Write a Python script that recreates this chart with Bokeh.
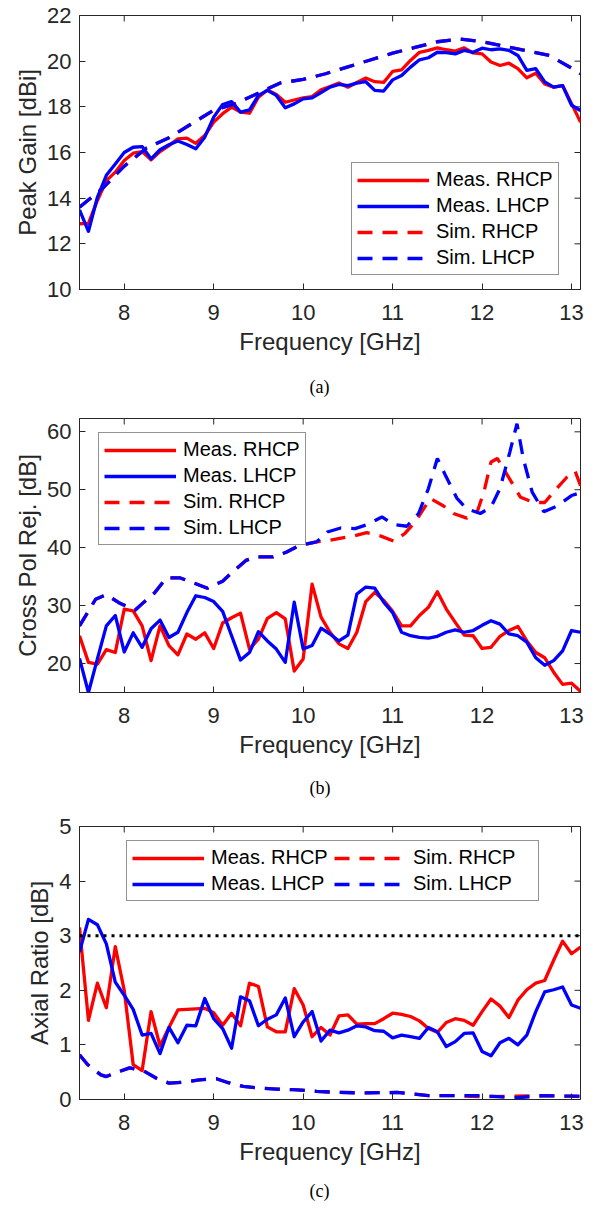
import math
from bokeh.plotting import figure
from bokeh.layouts import column
from bokeh.models import Range1d, Legend, LegendItem, FixedTicker, Title, Span
from bokeh.embed import file_html
from bokeh.resources import INLINE

# ---------------- data ----------------
freq = [7.5, 7.6, 7.7, 7.8, 7.9, 8.0, 8.1, 8.2, 8.3, 8.4, 8.5, 8.6, 8.7, 8.8, 8.9,
        9.0, 9.1, 9.2, 9.3, 9.4, 9.5, 9.6, 9.7, 9.8, 9.9, 10.0, 10.1, 10.2, 10.3,
        10.4, 10.5, 10.6, 10.7, 10.8, 10.9, 11.0, 11.1, 11.2, 11.3, 11.4, 11.5,
        11.6, 11.7, 11.8, 11.9, 12.0, 12.1, 12.2, 12.3, 12.4, 12.5, 12.6, 12.7,
        12.8, 12.9, 13.0, 13.1]

gain_meas_rhcp = [12.88, 12.9, 13.9, 14.77, 15.14, 15.65, 15.97, 16.04, 15.68, 16.04,
                  16.3, 16.6, 16.63, 16.4, 16.74, 17.33, 17.7, 17.99, 17.77, 17.72,
                  18.42, 18.74, 18.54, 18.2, 18.3, 18.39, 18.45, 18.75, 18.89, 19.04,
                  18.86, 19.07, 19.26, 19.1, 19.07, 19.55, 19.62, 20.03, 20.39, 20.47,
                  20.58, 20.5, 20.44, 20.58, 20.36, 20.32, 19.96, 19.81, 19.91, 19.67,
                  19.27, 19.47, 19.0, 18.86, 18.93, 18.14, 17.33]
gain_meas_lhcp = [13.49, 12.55, 14.04, 15.0, 15.5, 16.0, 16.23, 16.26, 15.72, 16.12,
                  16.34, 16.5, 16.35, 16.16, 16.67, 17.55, 18.1, 18.23, 17.77, 17.87,
                  18.5, 18.72, 18.5, 17.96, 18.13, 18.35, 18.39, 18.62, 18.86, 18.98,
                  18.93, 19.04, 19.1, 18.72, 18.69, 19.18, 19.37, 19.74, 20.06, 20.15,
                  20.39, 20.37, 20.32, 20.47, 20.39, 20.57, 20.5, 20.54, 20.47, 20.25,
                  19.6, 19.67, 19.09, 18.86, 18.93, 18.07, 17.84]
gain_sim_freq = [7.5, 7.75, 8.0, 8.25, 8.5, 8.75, 9.0, 9.25, 9.5, 9.75, 10.0, 10.25,
                 10.5, 10.75, 11.0, 11.25, 11.5, 11.75, 12.0, 12.25, 12.5, 12.75, 13.0, 13.1]
gain_sim_rhcp = [13.6, 14.4, 15.4, 16.2, 16.65, 17.25, 17.85, 18.15, 18.6, 19.05, 19.2,
                 19.45, 19.75, 20.05, 20.35, 20.6, 20.85, 20.97, 20.85, 20.65, 20.45,
                 20.25, 19.7, 19.45]
gain_sim_lhcp = [13.6, 14.4, 15.4, 16.2, 16.65, 17.25, 17.85, 18.15, 18.6, 19.05, 19.2,
                 19.45, 19.75, 20.05, 20.35, 20.6, 20.85, 20.97, 20.85, 20.65, 20.45,
                 20.25, 19.7, 19.45]

xpr_meas_rhcp = [24.8, 20.2, 19.9, 22.4, 21.9, 29.4, 29.1, 26.5, 20.5, 26.5, 23.1, 21.5,
                 25.1, 24.2, 25.3, 22.6, 27.0, 27.9, 28.7, 22.5, 24.2, 27.8, 28.8, 27.7,
                 18.7, 20.8, 33.7, 28.0, 25.4, 23.4, 22.6, 25.4, 30.7, 32.3, 30.9, 29.0,
                 26.5, 26.5, 28.3, 29.7, 32.4, 29.4, 27.1, 24.9, 24.8, 22.6, 22.8, 24.7,
                 25.7, 26.4, 23.9, 21.9, 21.0, 18.5, 16.4, 16.6, 15.2]
xpr_meas_lhcp = [20.9, 15.0, 20.8, 26.5, 28.3, 22.0, 25.3, 22.8, 26.0, 27.5, 24.5, 25.4,
                 28.8, 31.7, 31.4, 30.7, 29.0, 24.8, 20.6, 21.9, 25.5, 23.9, 22.5, 20.2,
                 30.6, 22.5, 23.1, 26.1, 25.1, 23.9, 24.9, 32.0, 33.2, 33.0, 30.6, 28.8,
                 25.4, 24.8, 24.5, 24.4, 24.7, 25.4, 25.8, 25.4, 25.7, 26.6, 27.4, 26.8,
                 25.1, 24.8, 23.7, 21.0, 19.7, 20.5, 22.2, 25.7, 25.4]
xpr_sim_rhcp_freq = [7.5, 7.68, 7.8, 7.94, 8.12, 8.22, 8.34, 8.47, 8.62, 8.78, 8.93, 9.1,
                     9.21, 9.36, 9.47, 9.66, 9.81, 9.96, 10.15, 10.26, 10.41, 10.56, 10.71,
                     10.87, 11.02, 11.14, 11.26, 11.42, 11.57, 11.68, 11.83, 11.95, 12.02,
                     12.1, 12.17, 12.26, 12.43, 12.58, 12.7, 12.82, 12.95, 13.04, 13.1]
xpr_sim_rhcp = [26.5, 31.1, 31.9, 30.5, 29.2, 30.6, 32.2, 34.8, 34.8, 33.9, 33.0, 34.2,
                35.8, 37.8, 38.4, 38.4, 39.2, 40.4, 41.0, 41.2, 41.6, 42.0, 42.6, 42.0,
                41.1, 42.5, 44.6, 48.5, 47.2, 45.9, 45.1, 46.4, 49.6, 54.8, 55.4, 53.1,
                48.7, 47.8, 47.8, 50.0, 52.2, 53.2, 50.7]
xpr_sim_lhcp_freq = [7.5, 7.68, 7.8, 7.94, 8.12, 8.22, 8.34, 8.47, 8.62, 8.78, 8.93, 9.1,
                     9.21, 9.36, 9.47, 9.66, 9.81, 9.96, 10.15, 10.27, 10.42, 10.58, 10.72,
                     10.88, 11.01, 11.16, 11.29, 11.4, 11.5, 11.59, 11.72, 11.83, 11.98,
                     12.1, 12.2, 12.31, 12.39, 12.46, 12.56, 12.69, 12.84, 13.0, 13.1]
xpr_sim_lhcp = [26.5, 31.1, 31.9, 30.5, 29.2, 30.6, 32.2, 34.8, 34.8, 33.9, 33.0, 34.2,
                35.8, 37.8, 38.4, 38.4, 39.2, 40.4, 41.0, 42.7, 43.4, 43.3, 44.0, 45.3,
                44.0, 43.7, 45.9, 50.2, 55.4, 52.5, 48.5, 46.7, 45.9, 47.0, 50.2, 56.5,
                61.4, 55.4, 49.6, 46.2, 47.2, 49.0, 49.5]

ar_meas_rhcp = [3.15, 1.45, 2.13, 1.68, 2.8, 2.0, 0.64, 0.53, 1.61, 0.98, 1.32, 1.64, 1.65,
                1.66, 1.67, 1.59, 1.36, 1.58, 1.35, 2.13, 2.07, 1.33, 1.24, 1.24, 2.03,
                1.73, 1.15, 1.32, 1.18, 1.53, 1.55, 1.38, 1.39, 1.39, 1.48, 1.58, 1.56,
                1.52, 1.44, 1.3, 1.23, 1.41, 1.48, 1.45, 1.36, 1.61, 1.84, 1.71, 1.5,
                1.82, 2.01, 2.13, 2.18, 2.55, 2.9, 2.67, 2.79]
ar_meas_lhcp = [2.7, 3.3, 3.2, 2.85, 2.15, 1.91, 1.65, 1.18, 1.21, 0.84, 1.32, 1.04, 1.36,
                1.35, 1.85, 1.48, 1.3, 0.94, 1.88, 1.81, 1.35, 1.47, 1.55, 1.86, 1.15,
                1.42, 1.61, 1.07, 1.27, 1.22, 1.27, 1.35, 1.33, 1.26, 1.25, 1.13, 1.18,
                1.15, 1.12, 1.32, 1.24, 0.97, 1.06, 1.21, 1.22, 0.88, 0.8, 1.04, 1.12,
                1.0, 1.18, 1.61, 1.97, 2.01, 2.06, 1.73, 1.67]
ar_sim_freq = [7.5, 7.59, 7.74, 7.8, 7.89, 8.06, 8.21, 8.36, 8.5, 8.69, 8.84, 9.03, 9.14,
               9.33, 9.51, 9.7, 9.89, 10.15, 10.38, 10.71, 11.05, 11.4, 11.69, 12.02,
               12.36, 12.69, 13.0, 13.1]
ar_sim_rhcp = [0.82, 0.64, 0.45, 0.42, 0.48, 0.58, 0.53, 0.39, 0.3, 0.32, 0.36, 0.38, 0.32,
               0.24, 0.21, 0.19, 0.18, 0.15, 0.13, 0.12, 0.13, 0.07, 0.07, 0.05, 0.06,
               0.07, 0.06, 0.05]
ar_sim_lhcp = [0.82, 0.64, 0.45, 0.42, 0.48, 0.58, 0.53, 0.39, 0.3, 0.32, 0.36, 0.38, 0.32,
               0.24, 0.21, 0.19, 0.18, 0.15, 0.13, 0.12, 0.13, 0.07, 0.07, 0.07, 0.03,
               0.07, 0.06, 0.06]
ar_limit = 3.0

x_lim = (7.5, 13.1)
x_ticks = [8, 9, 10, 11, 12, 13]
gain_lim = (10, 22)
gain_ticks = [10, 12, 14, 16, 18, 20, 22]
xpr_lim = (15, 62.3)
xpr_ticks = [20, 30, 40, 50, 60]
ar_lim = (0, 5)
ar_ticks = [0, 1, 2, 3, 4, 5]
labels = ["Meas. RHCP", "Meas. LHCP", "Sim. RHCP", "Sim. LHCP"]

# ---------------- style ----------------
FONT = "Liberation Sans"
AX = "#262626"
RED = "#FF0000"
BLUE = "#0000FF"
LW = 3.3
DASH = "15 10"


def make_panel(height, top, bottom, yr, yticks, ylabel, caption, cap_standoff):
    p = figure(width=596, height=height, output_backend="svg", toolbar_location=None,
               x_range=Range1d(*x_lim), y_range=Range1d(*yr),
               min_border_left=79, min_border_right=16, min_border_top=top,
               min_border_bottom=bottom)
    p.xgrid.visible = False
    p.ygrid.visible = False
    p.outline_line_color = AX
    p.outline_line_width = 1
    p.background_fill_color = "white"
    p.border_fill_color = "white"
    for ax in (p.xaxis[0], p.yaxis[0]):
        ax.axis_line_color = AX
        ax.major_tick_line_color = AX
        ax.major_tick_in = 6
        ax.major_tick_out = 0
        ax.minor_tick_line_color = None
        ax.major_label_text_font = FONT
        ax.major_label_text_font_size = "22px"
        ax.major_label_text_color = AX
        ax.axis_label_text_font = FONT
        ax.axis_label_text_font_size = "24px"
        ax.axis_label_text_font_style = "normal"
        ax.axis_label_text_color = AX
    p.xaxis.ticker = FixedTicker(ticks=x_ticks)
    p.yaxis.ticker = FixedTicker(ticks=yticks)
    p.xaxis.axis_label = "Frequency [GHz]"
    p.yaxis.axis_label = ylabel
    p.xaxis.major_label_standoff = 15
    p.xaxis.axis_label_standoff = 5
    p.yaxis.major_label_standoff = 8
    p.yaxis.axis_label_standoff = 3
    # inward ticks on the top and right edges of the box (MATLAB "box on")
    p.scatter(x=x_ticks, y=[yr[1]] * len(x_ticks), marker="dash", angle=math.pi / 2,
              size=12, line_color=AX, line_width=1)
    p.scatter(x=[x_lim[1]] * len(yticks), y=yticks, marker="dash",
              size=12, line_color=AX, line_width=1)
    cap = Title(text=caption, align="left", text_font="Liberation Serif",
                text_font_size="18px", text_font_style="normal", text_color="black",
                standoff=cap_standoff, offset=230)
    p.add_layout(cap, "below")
    return p


def style_legend(lg):
    lg.label_text_font = FONT
    lg.label_text_font_size = "20px"
    lg.label_text_color = "black"
    lg.glyph_width = 72
    lg.glyph_height = 20
    lg.label_height = 20
    lg.label_standoff = 7
    lg.spacing = 3
    lg.padding = 5
    lg.margin = 0
    lg.border_line_color = AX
    lg.border_line_width = 1
    lg.background_fill_color = "white"
    lg.background_fill_alpha = 1.0


# ---------------- (a) Peak gain ----------------
pa = make_panel(414, 15, 125, gain_lim, gain_ticks, "Peak Gain [dBi]", "(a)", 34)
a1 = pa.line(freq, gain_meas_rhcp, line_color=RED, line_width=LW, line_join="round")
a2 = pa.line(freq, gain_meas_lhcp, line_color=BLUE, line_width=LW, line_join="round")
a3 = pa.line(gain_sim_freq, gain_sim_rhcp, line_color=RED, line_width=LW, line_dash=DASH)
a4 = pa.line(gain_sim_freq, gain_sim_lhcp, line_color=BLUE, line_width=LW, line_dash=DASH)
lga = Legend(items=[LegendItem(label=l, renderers=[r]) for l, r in zip(labels, [a1, a2, a3, a4])],
             location=(272, 14))
style_legend(lga)
pa.add_layout(lga)

# ---------------- (b) Cross-pol rejection ----------------
pb = make_panel(399, 4, 121, xpr_lim, xpr_ticks, "Cross Pol Rej. [dB]", "(b)", 30)
b1 = pb.line(freq, xpr_meas_rhcp, line_color=RED, line_width=LW, line_join="round")
b2 = pb.line(freq, xpr_meas_lhcp, line_color=BLUE, line_width=LW, line_join="round")
b3 = pb.line(xpr_sim_rhcp_freq, xpr_sim_rhcp, line_color=RED, line_width=LW, line_dash=DASH)
b4 = pb.line(xpr_sim_lhcp_freq, xpr_sim_lhcp, line_color=BLUE, line_width=LW, line_dash=DASH)
lgb = Legend(items=[LegendItem(label=l, renderers=[r]) for l, r in zip(labels, [b1, b2, b3, b4])],
             location=(19, 147))
style_legend(lgb)
pb.add_layout(lgb)

# ---------------- (c) Axial ratio ----------------
pc = make_panel(399, 13, 113, ar_lim, ar_ticks, "Axial Ratio [dB]", "(c)", 22)
c1 = pc.line(freq, ar_meas_rhcp, line_color=RED, line_width=LW, line_join="round")
c2 = pc.line(freq, ar_meas_lhcp, line_color=BLUE, line_width=LW, line_join="round")
c3 = pc.line(ar_sim_freq, ar_sim_rhcp, line_color=RED, line_width=LW, line_dash=DASH)
c4 = pc.line(ar_sim_freq, ar_sim_lhcp, line_color=BLUE, line_width=LW, line_dash=DASH)
pc.add_layout(Span(location=ar_limit, dimension="width", line_color="black",
                   line_width=3, line_dash="3 5"))
lgc = Legend(items=[LegendItem(label=l, renderers=[r]) for l, r in zip(labels, [c1, c2, c3, c4])],
             location=(47, 198), ncols=2)
style_legend(lgc)
lgc.label_width = 120
pc.add_layout(lgc)

layout = column(pa, pb, pc, spacing=0)
open("out.html", "w").write(file_html(layout, INLINE))
